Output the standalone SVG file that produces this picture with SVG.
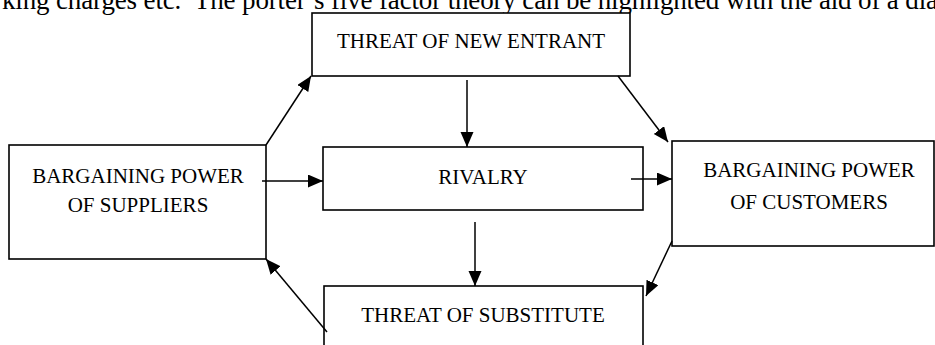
<svg xmlns="http://www.w3.org/2000/svg" width="935" height="345" viewBox="0 0 935 345">
<style>
.box{fill:#fff;stroke:#000;stroke-width:1.6}
.lbl{font-family:"Liberation Serif","Times New Roman",serif;font-size:21px;fill:#000;text-anchor:middle}
.body{font-family:"Liberation Serif","Times New Roman",serif;font-size:27px;fill:#000}
.con{stroke:#000;stroke-width:1.5;fill:none;marker-end:url(#ah)}
</style>
<defs>
<marker id="ah" markerUnits="userSpaceOnUse" markerWidth="17" markerHeight="15" refX="15" refY="6.5" orient="auto">
<path d="M0,0 L15,6.5 L0,13 Z" fill="#000"/>
</marker>
</defs>
<rect width="935" height="345" fill="#fff"/>
<text class="body" x="2" y="9" textLength="936" lengthAdjust="spacing" xml:space="preserve">king charges etc.  The porter’s five factor theory can be highlighted with the aid of a dia</text>
<g id="threat-new-entrant">
<rect class="box" x="312" y="13" width="318" height="63"/>
<text class="lbl" x="471" y="48">THREAT OF NEW ENTRANT</text>
</g>
<g id="suppliers">
<rect class="box" x="9" y="145" width="257" height="114"/>
<text class="lbl" x="138" y="183">BARGAINING POWER</text>
<text class="lbl" x="138" y="212">OF SUPPLIERS</text>
</g>
<g id="rivalry">
<rect class="box" x="323" y="147" width="320" height="63"/>
<text class="lbl" x="483" y="184">RIVALRY</text>
</g>
<g id="customers">
<rect class="box" x="672" y="141" width="262" height="105"/>
<text class="lbl" x="809" y="177">BARGAINING POWER</text>
<text class="lbl" x="809" y="209">OF CUSTOMERS</text>
</g>
<g id="threat-substitute">
<rect class="box" x="324" y="286" width="319" height="80"/>
<text class="lbl" x="483" y="322">THREAT OF SUBSTITUTE</text>
</g>
<g id="connectors">
<line class="con" x1="266" y1="145" x2="311" y2="76"/>
<line class="con" x1="618" y1="76" x2="668" y2="142"/>
<line class="con" x1="467" y1="80" x2="467" y2="147"/>
<line class="con" x1="262" y1="181" x2="323" y2="181"/>
<line class="con" x1="631" y1="179" x2="672" y2="179"/>
<line class="con" x1="475" y1="222" x2="475" y2="286"/>
<line class="con" x1="672" y1="241" x2="646" y2="296"/>
<line class="con" x1="327" y1="332" x2="266" y2="259"/>
</g>
</svg>
